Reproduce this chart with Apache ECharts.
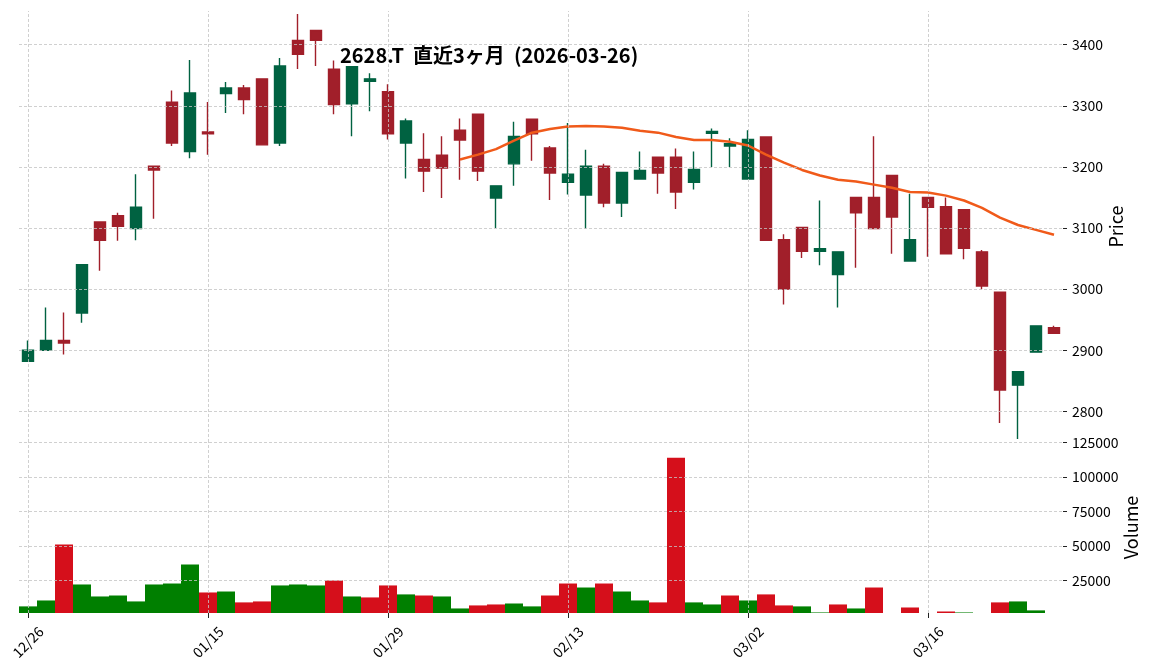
<!DOCTYPE html>
<html><head><meta charset="utf-8">
<script src="https://cdn.jsdelivr.net/npm/echarts@6/dist/echarts.min.js"></script>
<style>html,body{margin:0;padding:0;background:#fff}#c{width:1152px;height:670px}</style>
</head><body><div id="c"></div>
<script>
const TITLE = '2628.T  直近3ヶ月  (2026-03-26)';
const dates = ['12/26','12/29','12/30','01/05','01/06','01/07','01/08','01/09','01/13','01/14','01/15','01/16','01/19','01/20','01/21','01/22','01/23','01/26','01/27','01/28','01/29','01/30','02/02','02/03','02/04','02/05','02/06','02/09','02/10','02/12','02/13','02/16','02/17','02/18','02/19','02/20','02/24','02/25','02/26','02/27','03/02','03/03','03/04','03/05','03/06','03/09','03/10','03/11','03/12','03/13','03/16','03/17','03/18','03/19','03/23','03/24','03/25','03/26'];
const opens  = [2882,2900,2916,2961,3110,3120,3099,3201,3306,3225,3257,3320,3329,3344,3239,3407,3423,3360,3303,3340,3323,3239,3212,3219,3260,3286,3149,3205,3278,3231,3175,3154,3201,3141,3180,3216,3216,3175,3255,3234,3180,3249,3081,3101,3062,3024,3150,3150,3186,3046,3150,3135,3130,3061,2995,2843,2897,2937];
const closes = [2900,2916,2912,3040,3080,3103,3134,3195,3239,3321,3254,3329,3310,3236,3365,3384,3407,3302,3364,3344,3254,3275,3193,3198,3244,3193,3169,3250,3254,3190,3188,3201,3141,3191,3194,3190,3159,3196,3258,3238,3245,3080,3000,3062,3066,3061,3125,3099,3118,3081,3134,3058,3067,3005,2835,2865,2940,2928];
const highs  = [2916,2970,2962,3040,3111,3125,3188,3201,3325,3375,3306,3339,3334,3344,3378,3450,3423,3374,3364,3353,3335,3279,3255,3250,3279,3286,3169,3274,3278,3234,3272,3228,3205,3191,3225,3216,3230,3225,3263,3247,3260,3249,3090,3101,3145,3061,3150,3250,3186,3156,3150,3150,3130,3064,2995,2865,2940,2940];
const lows   = [2882,2900,2893,2945,3030,3079,3080,3115,3234,3214,3220,3288,3286,3236,3234,3360,3365,3286,3250,3291,3245,3181,3159,3149,3179,3177,3100,3169,3210,3146,3155,3099,3134,3118,3180,3156,3131,3163,3200,3200,3180,3080,2975,3051,3039,2970,3035,3099,3058,3046,3053,3058,3049,3000,2781,2755,2897,2928];
const volumes = [6200,10500,51100,22100,13400,14100,9800,22100,22800,36600,16300,17000,9100,9800,21400,22100,21400,25000,13400,12700,21400,14900,14100,13400,4700,6900,7600,8300,6200,14100,22800,19900,22800,17000,10500,9100,114100,9100,7600,14100,10500,14900,6900,6200,1800,7600,4700,19900,1400,5400,1400,2500,1800,1400,9100,9800,3300,1400];
const ma25 = ['-','-','-','-','-','-','-','-','-','-','-','-','-','-','-','-','-','-','-','-','-','-','-','-',3212,3220,3229,3243,3256,3262,3266,3267,3266,3264,3259,3256,3249,3244,3244,3241,3235,3220,3207,3195,3186,3179,3176,3171,3166,3159,3158,3153,3145,3133,3117,3105,3097,3089];
const priceTicks = [2800,2900,3000,3100,3200,3300,3400];
const volTicks = [25000,50000,75000,100000,125000];
const xLabelIdx = [0,10,20,30,40,50];

const FONT = "'Noto Sans CJK JP','Noto Sans',sans-serif";
const UP = '#006241', DOWN = '#a11f2a', VUP = '#007f00', VDOWN = '#d50f1b', MA = '#f05a1a', GRIDC = '#c4c4c4';

const candleData = dates.map((d,i)=>[opens[i], closes[i], lows[i], highs[i]]);
const volData = volumes.map((v,i)=>({value:v, itemStyle:{color:(i===0||closes[i]>=closes[i-1])?VUP:VDOWN}}));
const gridLine = {color:GRIDC, type:[3,2], width:0.8};
const vLines = xLabelIdx.map(i=>({xAxis:dates[i]}));
const plain = v => String(Math.round(v));

const chart = echarts.init(document.getElementById('c'));
chart.setOption({
  animation:false,
  backgroundColor:'#fff',
  textStyle:{fontFamily:FONT},
  title:{text:TITLE,left:340,top:45,padding:0,textStyle:{fontFamily:FONT,fontSize:20,fontWeight:'bold',color:'#000'}},
  grid:[{left:19,right:89,top:11,height:431},{left:19,right:89,top:442,height:171}],
  xAxis:[
    {type:'category',gridIndex:0,data:dates,boundaryGap:true,axisLine:{show:false},axisTick:{show:false},axisLabel:{show:false},splitLine:{show:false}},
    {type:'category',gridIndex:1,data:dates,boundaryGap:true,axisLine:{show:false},
     axisTick:{show:true,alignWithLabel:true,interval:(i)=>xLabelIdx.includes(i),length:5,lineStyle:{color:'#222'}},
     axisLabel:{interval:(i)=>xLabelIdx.includes(i),rotate:45,align:'center',verticalAlign:'middle',margin:29,fontSize:14,color:'#000',fontFamily:FONT},
     splitLine:{show:false}}
  ],
  yAxis:[
    {type:'value',gridIndex:0,position:'right',min:2750,max:3455,axisLine:{show:false},
     axisTick:{show:true,length:4,customValues:priceTicks,lineStyle:{color:'#222'}},
     axisLabel:{customValues:priceTicks,formatter:plain,fontSize:14,color:'#000',margin:9,fontFamily:FONT},
     splitLine:{show:false},name:'Price',nameLocation:'middle',nameRotate:90,nameGap:44,nameMoveOverlap:false,
     nameTextStyle:{fontSize:18,color:'#000',fontFamily:FONT}},
    {type:'value',gridIndex:1,position:'right',min:1400,max:125500,axisLine:{show:false},
     axisTick:{show:true,length:4,customValues:volTicks,lineStyle:{color:'#222'}},
     axisLabel:{customValues:volTicks,formatter:plain,fontSize:14,color:'#000',margin:9,fontFamily:FONT},
     splitLine:{show:false},name:'Volume',nameLocation:'middle',nameRotate:90,nameGap:59,nameMoveOverlap:false,
     nameTextStyle:{fontSize:18,color:'#000',fontFamily:FONT}}
  ],
  series:[
    {type:'line',xAxisIndex:0,yAxisIndex:0,data:[],z:0,silent:true,
     markLine:{silent:true,symbol:['none','none'],label:{show:false},lineStyle:gridLine,animation:false,
       data:priceTicks.map(v=>({yAxis:v})).concat(vLines)}},
    {type:'line',xAxisIndex:1,yAxisIndex:1,data:[],z:0,silent:true,
     markLine:{silent:true,symbol:['none','none'],label:{show:false},lineStyle:gridLine,animation:false,
       data:volTicks.map(v=>({yAxis:v})).concat(vLines)}},
    {type:'candlestick',xAxisIndex:0,yAxisIndex:0,data:candleData,barWidth:11,z:3,
     itemStyle:{color:UP,color0:DOWN,borderColor:UP,borderColor0:DOWN,borderWidth:1.4}},
    {type:'line',xAxisIndex:0,yAxisIndex:0,data:ma25,symbol:'none',z:4,
     lineStyle:{color:MA,width:2.5}},
    {type:'bar',xAxisIndex:1,yAxisIndex:1,data:volData,barWidth:18,z:3}
  ]
});
</script></body></html>
